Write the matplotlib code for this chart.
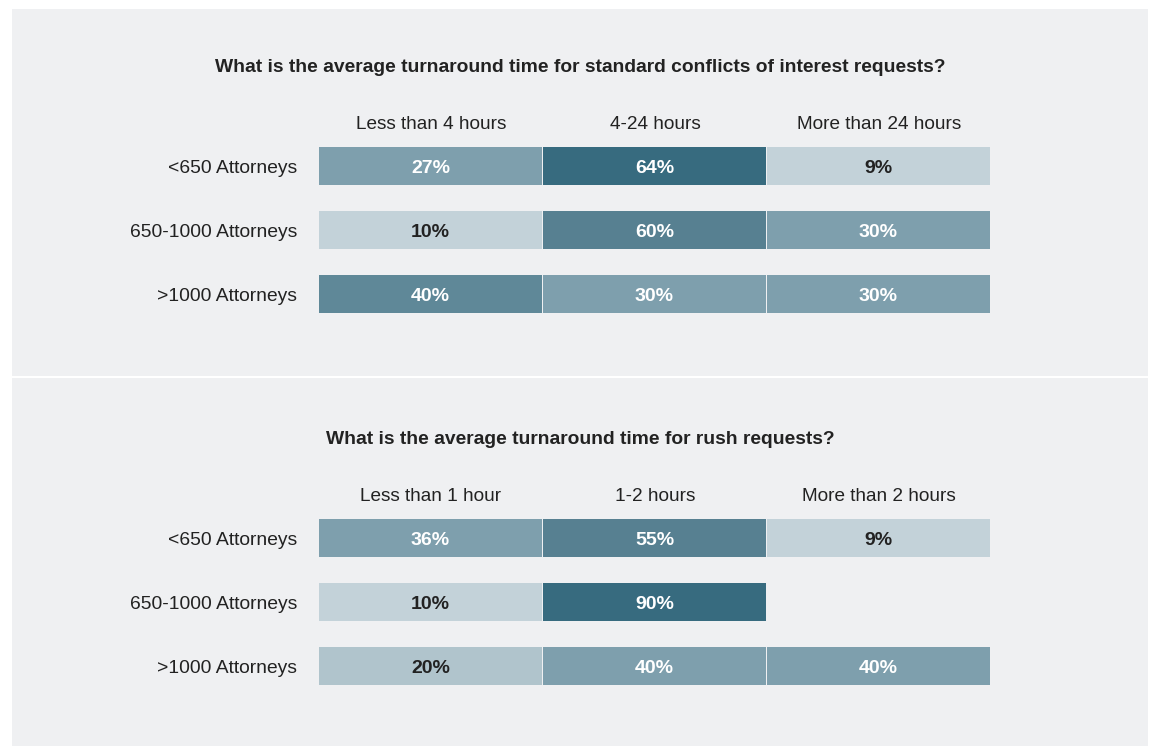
import matplotlib.pyplot as plt
from matplotlib.patches import Rectangle

plt.rcParams['font.family'] = ['Liberation Sans', 'DejaVu Sans']

# data
row_labels = ["<650 Attorneys", "650-1000 Attorneys", ">1000 Attorneys"]

title_standard = "What is the average turnaround time for standard conflicts of interest requests?"
cols_standard = ["Less than 4 hours", "4-24 hours", "More than 24 hours"]
values_standard = [
    [27, 64, 9],
    [10, 60, 30],
    [40, 30, 30],
]

title_rush = "What is the average turnaround time for rush requests?"
cols_rush = ["Less than 1 hour", "1-2 hours", "More than 2 hours"]
values_rush = [
    [36, 55, 9],
    [10, 90, None],
    [20, 40, 40],
]

# cell shading (style)
colors_standard = [
    ["#7e9fad", "#376b7f", "#c3d2d9"],
    ["#c3d2d9", "#578091", "#7e9fad"],
    ["#5f8898", "#7e9fad", "#7e9fad"],
]
colors_rush = [
    ["#7e9fad", "#578091", "#c3d2d9"],
    ["#c3d2d9", "#376b7f", None],
    ["#b0c4cc", "#7e9fad", "#7e9fad"],
]
light = {"#c3d2d9", "#b0c4cc"}

W, H = 1151, 747
BG = "#eff0f2"
DARK = "#222222"

fig = plt.figure(figsize=(W / 100, H / 100), dpi=100)
ax = fig.add_axes([0, 0, 1, 1])
ax.set_xlim(0, W)
ax.set_ylim(H, 0)
ax.axis("off")

COL_X0 = 319
COL_W = 224
ROW_H = 38
ROW_PITCH = 64


def draw_panel(top, bottom, y0, title, cols, values, colors):
    ax.add_patch(Rectangle((12, top), 1136, bottom - top, facecolor=BG, edgecolor="none"))
    ax.text(580, y0 + 72, title, ha="center", va="baseline", fontsize=13.9,
            fontweight="bold", color=DARK)
    for j, c in enumerate(cols):
        ax.text(COL_X0 + COL_W * j + COL_W / 2, y0 + 129, c, ha="center",
                va="baseline", fontsize=13.7, color=DARK)
    for i, lab in enumerate(row_labels):
        yc = y0 + 166 + i * ROW_PITCH
        ax.text(297, yc + 7, lab, ha="right", va="baseline", fontsize=13.9, color=DARK)
        for j, v in enumerate(values[i]):
            if v is None:
                continue
            col = colors[i][j]
            ax.barh(yc, COL_W - 1, height=ROW_H, left=COL_X0 + COL_W * j,
                    color=col, edgecolor="none")
            tc = DARK if col in light else "white"
            ax.text(COL_X0 + COL_W * j + (COL_W - 1) / 2, yc + 7, f"{v}%",
                    ha="center", va="baseline", fontsize=14, fontweight="bold", color=tc)


draw_panel(9, 376, 0, title_standard, cols_standard, values_standard, colors_standard)
draw_panel(378, 746, 372, title_rush, cols_rush, values_rush, colors_rush)

fig.savefig("out.png", dpi=100, facecolor="white")
